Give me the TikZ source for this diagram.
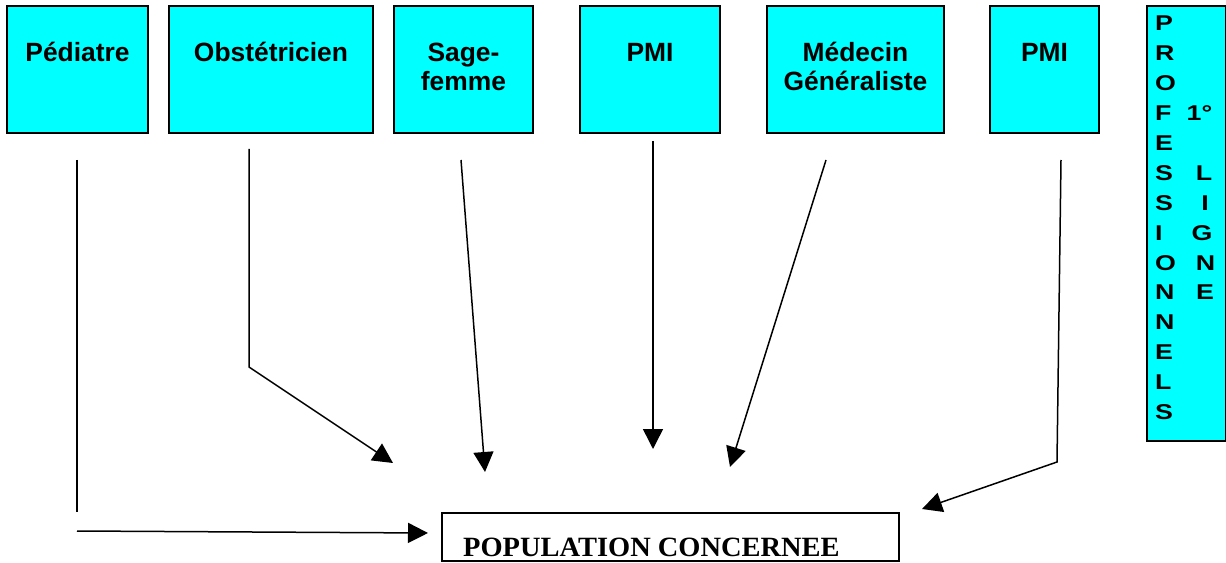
\documentclass[tikz,border=0pt]{standalone}
\usepackage{fontspec}
\setmainfont{Liberation Sans}
\newfontfamily\popfont{Liberation Serif}
\usetikzlibrary{arrows.meta}

\definecolor{boxcyan}{RGB}{0,255,255}

\tikzset{
  cyanbox/.style={draw=black, line width=2bp, fill=boxcyan, rectangle,
                  inner sep=0, anchor=north west},
  lbl/.style={font=\bfseries\fontsize{26.5}{30}\selectfont, inner sep=0, anchor=base},
  vlet/.style={font=\bfseries\fontsize{21.5}{30}\selectfont, inner sep=0, anchor=base},
  popbox/.style={draw=black, line width=1.5bp, rectangle, inner sep=0, anchor=north west},
  poptext/.style={font=\popfont\bfseries\fontsize{28}{30}\selectfont, inner sep=0, anchor=base west},
  link/.style={draw=black, line width=1.5bp},
  arrowlink/.style={link, -{Triangle[length=20bp,width=20bp]}}
}
% wide capitals of the vertical heading
\newcommand\wideletter[1]{\scalebox{1.25}[1]{#1}}

\begin{document}
\begin{tikzpicture}[x=1bp,y=-1bp]
  \useasboundingbox (0,0) rectangle (1226,563);

  % professionals
  \node[cyanbox, minimum width=141bp, minimum height=127bp] (ped)  at (6,5)   {};
  \node[cyanbox, minimum width=204bp, minimum height=127bp] (obs)  at (168,5) {};
  \node[cyanbox, minimum width=139bp, minimum height=127bp] (sage) at (393,5) {};
  \node[cyanbox, minimum width=140bp, minimum height=127bp] (pmia) at (579,5) {};
  \node[cyanbox, minimum width=177bp, minimum height=127bp] (med)  at (766,5) {};
  \node[cyanbox, minimum width=109bp, minimum height=127bp] (pmib) at (989,5) {};
  \node[cyanbox, minimum width=79bp,  minimum height=435bp] (prof) at (1146,5) {};

  \node[lbl] (pedlbl)   at (ped.center  |- 0,61.5) {Pédiatre};
  \node[lbl] (obslbl)   at (obs.center  |- 0,61.5) {Obstétricien};
  \node[lbl] (sagelbla) at (sage.center |- 0,61.5) {Sage-};
  \node[lbl] (sagelblb) at (sage.center |- 0,91)   {femme};
  \node[lbl] (pmialbl)  at (pmia.center |- 0,61.5) {PMI};
  \node[lbl] (medlbla)  at (med.center  |- 0,61.5) {Médecin};
  \node[lbl] (medlblb)  at (med.center  |- 0,91)   {Généraliste};
  \node[lbl] (pmiblbl)  at (pmib.center |- 0,61.5) {PMI};

  % vertical heading
  \foreach \ch [count=\i from 0] in {P,R,O,F,E,S,S,I,O,N,N,E,L,S}
    \node[vlet, anchor=base west] (pl\i) at (1155, 30.5+29.94*\i) {\wideletter{\ch}};
  \node[vlet] (rla) at (1199.5, 30.5+29.94*3) {\wideletter{1°}};
  \node[vlet] (rlb) at (1204,   30.5+29.94*5) {\wideletter{L}};
  \node[vlet] (rlc) at (1205,   30.5+29.94*6) {\wideletter{I}};
  \node[vlet] (rld) at (1202,   30.5+29.94*7) {\wideletter{G}};
  \node[vlet] (rle) at (1205.5, 30.5+29.94*8) {\wideletter{N}};
  \node[vlet] (rlf) at (1205,   30.5+29.94*9) {\wideletter{E}};

  % target population
  \node[popbox, minimum width=457bp, minimum height=48bp] (pop) at (441,512) {};
  \node[poptext] (poplbl) at (463,556.5) {\scalebox{1.02}[1]{POPULATION CONCERNEE}};

  % connector end points
  \coordinate (pedA) at (77,160);
  \coordinate (pedB) at (77,512);
  \coordinate (pedC) at (77,531);
  \coordinate (pedD) at (428,533);
  \coordinate (obsA) at (249,149);
  \coordinate (obsB) at (249,367);
  \coordinate (obsC) at (393,463);
  \coordinate (sageA) at (461,160);
  \coordinate (sageB) at (485,472);
  \coordinate (pmiaA) at (653,141);
  \coordinate (pmiaB) at (653,449);
  \coordinate (medA) at (826,160);
  \coordinate (medB) at (730,467);
  \coordinate (pmibA) at (1061,160);
  \coordinate (pmibB) at (1057,462);
  \coordinate (pmibC) at (922,509);

  \draw[link] (pedA) -- (pedB);
  \draw[arrowlink] (pedC) -- (pedD);
  \draw[arrowlink] (obsA) -- (obsB) -- (obsC);
  \draw[arrowlink] (sageA) -- (sageB);
  \draw[arrowlink] (pmiaA) -- (pmiaB);
  \draw[arrowlink] (medA) -- (medB);
  \draw[arrowlink] (pmibA) -- (pmibB) -- (pmibC);
\end{tikzpicture}
\end{document}
